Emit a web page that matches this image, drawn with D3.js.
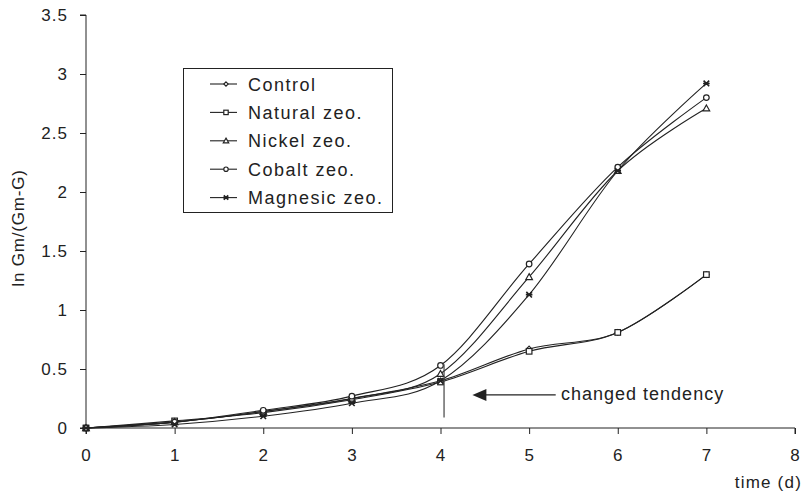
<!DOCTYPE html>
<html><head><meta charset="utf-8">
<script src="https://cdn.jsdelivr.net/npm/d3@7"></script>
<style>body{margin:0;background:#fff}svg{display:block}text{font-family:"Liberation Sans",Arial,sans-serif;fill:#222}</style>
</head><body><svg id="c" width="810" height="502"></svg>
<script>
const days = [0,1,2,3,4,5,6,7];
const control   = [0,0.05,0.14,0.25,0.40,0.67,0.81,1.30];
const natural   = [0,0.06,0.13,0.24,0.39,0.65,0.81,1.30];
const nickel    = [0,0.05,0.14,0.25,0.46,1.28,2.18,2.71];
const cobalt    = [0,0.05,0.15,0.27,0.53,1.39,2.21,2.80];
const magnesic  = [0,0.03,0.10,0.21,0.40,1.13,2.18,2.92];
const seriesNames = ["Control","Natural zeo.","Nickel zeo.","Cobalt zeo.","Magnesic zeo."];
const seriesMarkers = ["diamond","square","triangle","circle","star"];
const xTicks = [0,1,2,3,4,5,6,7,8];
const yTicks = [0,0.5,1,1.5,2,2.5,3,3.5];
const annotationText = "changed tendency";

const series = [control,natural,nickel,cobalt,magnesic].map((v,i)=>({name:seriesNames[i],marker:seriesMarkers[i],values:v}));

const svg = d3.select("#c");
const x = d3.scaleLinear().domain([0,8]).range([86,795]);
const y = d3.scaleLinear().domain([0,3.5]).range([428,15]);
const ink = "#222";

// axes
const xa = svg.append("g").attr("transform","translate(0,428)")
  .call(d3.axisBottom(x).tickValues(xTicks).tickSize(6).tickPadding(15).tickFormat(d3.format("d")));
const ya = svg.append("g").attr("transform","translate(86,0)")
  .call(d3.axisLeft(y).tickValues(yTicks).tickSize(6).tickPadding(12).tickFormat(d=>String(d)));
[xa,ya].forEach(g=>{
  g.select(".domain").attr("stroke",ink).attr("stroke-width",1);
  g.selectAll(".tick line").attr("stroke",ink);
  g.selectAll(".tick text").style("font-size","17px").style("letter-spacing","1px").attr("fill",ink).style("font-family","Liberation Sans, Arial, sans-serif");
});
ya.select(".domain").attr("d","M-6,15H0V428H-6");
xa.select(".domain").attr("d","M0,6V0H"+(795-86)+"V6").attr("transform","translate(86,0)");

svg.append("text").attr("transform","translate(24,228) rotate(-90)").attr("text-anchor","middle")
  .style("font-size","17px").style("letter-spacing","0.8px").text("ln Gm/(Gm-G)");
svg.append("text").attr("x",802).attr("y",488).attr("text-anchor","end")
  .style("font-size","17px").style("letter-spacing","1.2px").text("time (d)");

// lines
const line = d3.line().x((d,i)=>x(days[i])).y(d=>y(d)).curve(d3.curveCatmullRom.alpha(0));
const gLines = svg.append("g");
series.forEach(s=>{
  gLines.append("path").attr("d",line(s.values)).attr("fill","none").attr("stroke",ink).attr("stroke-width",1.1);
});

function marker(g,type,cx,cy,r){
  r = r||3;
  if(type==="diamond") g.append("path").attr("d",`M${cx},${cy-r}L${cx+r},${cy}L${cx},${cy+r}L${cx-r},${cy}Z`).attr("fill","#fff").attr("stroke",ink).attr("stroke-width",1.1);
  else if(type==="square") g.append("rect").attr("x",cx-r).attr("y",cy-r).attr("width",2*r).attr("height",2*r).attr("fill","#fff").attr("stroke",ink).attr("stroke-width",1.2);
  else if(type==="triangle") g.append("path").attr("d",`M${cx},${cy-r-0.5}L${cx+r+0.5},${cy+r-0.2}L${cx-r-0.5},${cy+r-0.2}Z`).attr("fill","#fff").attr("stroke",ink).attr("stroke-width",1.2);
  else if(type==="circle") g.append("circle").attr("cx",cx).attr("cy",cy).attr("r",r).attr("fill","#fff").attr("stroke",ink).attr("stroke-width",1.2);
  else if(type==="star") g.append("path").attr("d",`M${cx-r},${cy-r}L${cx+r},${cy+r}M${cx+r},${cy-r}L${cx-r},${cy+r}M${cx-r-0.5},${cy}H${cx+r+0.5}`).attr("stroke",ink).attr("stroke-width",1.6);
}
const gM = svg.append("g");
series.forEach(s=>{
  s.values.forEach((v,i)=>marker(gM,s.marker,x(days[i]),y(v),2.8));
});

// annotation
const ann = svg.append("g");
ann.append("line").attr("x1",x(4.04)).attr("x2",x(4.04)).attr("y1",y(0.54)).attr("y2",y(0.09)).attr("stroke","#444").attr("stroke-width",1.2);
const ay = y(0.28);
ann.append("line").attr("x1",x(4.45)).attr("x2",x(5.3)).attr("y1",ay).attr("y2",ay).attr("stroke",ink).attr("stroke-width",1.2);
const ax = x(4.36);
ann.append("path").attr("d",`M${ax},${ay}L${ax+14},${ay-6}L${ax+14},${ay+6}Z`).attr("fill",ink);
ann.append("text").attr("x",x(5.36)).attr("y",ay+5.5).style("font-size","18px").style("letter-spacing","1px").text(annotationText);

// legend
const lg = svg.append("g");
lg.append("rect").attr("x",183.5).attr("y",68.5).attr("width",209).attr("height",144).attr("fill","#fff").attr("stroke",ink).attr("stroke-width",1);
series.forEach((s,i)=>{
  const ly = 84 + i*28.4;
  lg.append("line").attr("x1",210).attr("x2",237).attr("y1",ly).attr("y2",ly).attr("stroke",ink).attr("stroke-width",1.1);
  marker(lg,s.marker,226,ly,2.2);
  lg.append("text").attr("x",248).attr("y",ly+6.5).style("font-size","18px").style("letter-spacing","1.5px").text(s.name);
});
</script></body></html>
